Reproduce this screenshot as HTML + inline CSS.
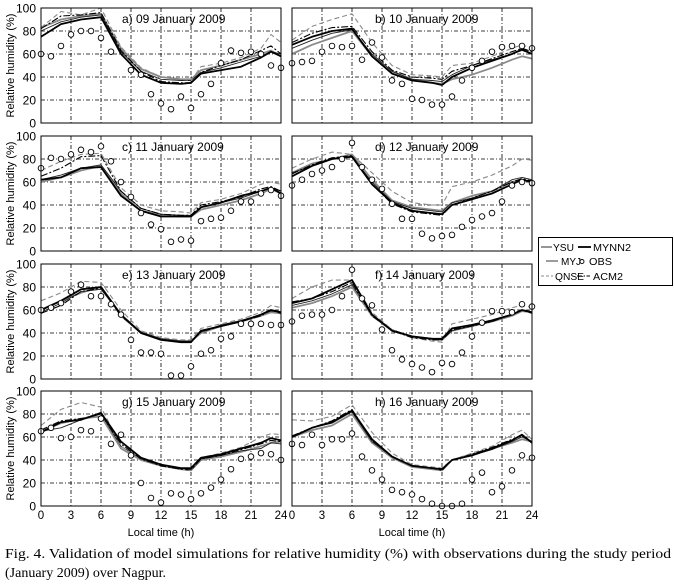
<!DOCTYPE html>
<html><head><meta charset="utf-8">
<style>
html,body{margin:0;padding:0;background:#fff;}
svg{display:block;font-family:"Liberation Sans",sans-serif;}
</style></head>
<body>
<svg id="fig" width="674" height="585" viewBox="0 0 674 585" xmlns="http://www.w3.org/2000/svg"></svg>
<script>
const hours = [0,2,4,6,8,10,12,14,15,16,18,20,22,23,24];
const obsHours = [0,1,2,3,4,5,6,7,8,9,10,11,12,13,14,15,16,17,18,19,20,21,22,23,24];
const xTicks = [0,3,6,9,12,15,18,21,24];
const yTicks = [0,20,40,60,80,100];
const panelTitles = ["a) 09 January 2009","b) 10 January 2009","c) 11 January 2009","d) 12 January 2009","e) 13 January 2009","f) 14 January 2009","g) 15 January 2009","h) 16 January 2009"];
const seriesNames = ["YSU","MYJ","QNSE","MYNN2","ACM2"];

const ysuA=[83,90,93,95,65,47,40,38,38,46,50,55,60,63,58];
const myjA=[80,88,92,94,62,45,38,37,37,44,48,53,58,62,60];
const qnseA=[83,97,94,100,66,48,40,38,37,49,52,57,65,77,70];
const mynnA=[75,86,90,92,60,42,35,34,35,43,46,49,57,62,58];
const acmA=[82,93,94,96,63,45,36,35,35,44,50,55,63,67,60];
const obsA=[60,58,67,77,80,80,74,62,null,46,42,25,17,12,23,13,25,34,52,63,61,62,60,50,48];

const ysuB=[60,68,74,80,58,45,38,35,34,38,42,48,55,58,56];
const myjB=[65,72,78,81,60,45,38,37,36,42,50,55,60,63,60];
const qnseB=[72,84,90,95,70,50,42,41,40,50,52,58,65,68,65];
const mynnB=[68,75,80,82,58,43,37,35,33,40,48,54,60,64,60];
const acmB=[70,78,83,84,62,46,40,39,38,45,50,56,62,65,62];
const obsB=[52,53,54,62,67,66,67,55,70,57,37,34,21,20,16,16,23,37,48,54,62,66,67,67,65];

const ysuC=[60,64,70,74,50,35,31,30,30,36,40,44,50,54,50];
const myjC=[62,66,72,75,52,37,32,31,31,38,42,46,52,55,52];
const qnseC=[70,78,84,85,55,40,35,34,33,42,45,50,58,60,58];
const mynnC=[62,64,72,73,48,35,30,30,30,38,42,48,52,55,50];
const acmC=[65,72,82,83,52,37,32,31,31,40,43,47,54,56,52];
const obsC=[72,81,80,84,88,86,91,78,60,47,33,23,19,8,10,9,26,28,29,35,43,43,50,53,48];

const ysuD=[68,76,80,84,62,44,38,36,35,42,48,52,60,62,60];
const myjD=[68,74,80,82,60,43,37,35,34,42,46,52,62,64,62];
const qnseD=[72,80,86,84,68,52,42,40,40,56,60,66,74,80,79];
const mynnD=[65,74,80,82,58,42,35,33,32,40,45,50,58,62,60];
const acmD=[67,75,81,83,58,41,34,32,31,40,46,52,60,63,61];
const obsD=[57,62,67,70,73,80,94,73,62,54,41,28,28,15,11,13,14,21,27,30,33,43,57,60,59];

const ysuE=[60,68,75,80,55,40,35,33,33,40,46,50,55,58,57];
const myjE=[58,66,76,78,56,41,35,33,33,41,47,51,56,59,58];
const qnseE=[68,75,85,84,60,42,36,34,34,44,48,52,58,64,62];
const mynnE=[60,68,78,80,56,40,34,32,32,42,46,50,56,60,58];
const acmE=[57,64,76,79,55,40,34,32,32,41,46,50,55,60,57];
const obsE=[60,62,66,76,82,72,72,65,56,34,23,23,22,3,3,11,22,25,35,37,48,48,48,47,47];

const ysuF=[62,66,72,80,55,42,37,35,34,42,46,50,55,59,58];
const myjF=[64,68,74,82,56,43,37,35,34,42,46,50,56,60,58];
const qnseF=[70,80,86,86,58,43,36,33,32,48,52,56,62,64,62];
const mynnF=[66,70,78,86,56,42,37,35,35,44,47,51,56,60,58];
const acmF=[67,70,76,84,55,42,36,34,34,43,46,50,56,60,57];
const obsF=[50,55,56,56,60,72,95,70,64,43,25,17,13,10,6,14,13,23,37,49,59,59,58,65,63];

const ysuG=[65,72,76,78,50,40,35,32,31,40,43,47,52,55,56];
const myjG=[65,68,75,80,52,41,35,32,31,41,44,48,50,55,54];
const qnseG=[70,84,90,86,52,40,35,32,31,42,46,51,60,63,62];
const mynnG=[64,73,75,81,56,42,36,33,33,42,45,50,55,59,57];
const acmG=[66,74,76,80,54,41,35,32,32,41,44,49,54,57,56];
const obsG=[65,68,59,60,66,65,76,54,62,44,20,7,3,11,10,6,11,16,23,32,41,43,46,45,40];

const ysuH=[60,66,70,80,55,42,34,32,31,40,45,50,55,58,56];
const myjH=[60,68,72,82,56,43,35,33,32,40,44,49,56,60,56];
const qnseH=[75,74,78,88,64,46,36,34,33,40,46,52,62,66,58];
const mynnH=[60,68,73,83,58,43,35,33,32,40,44,50,57,62,55];
const acmH=[61,68,74,84,57,43,35,33,31,40,45,51,58,61,56];
const obsH=[54,53,62,53,58,58,63,43,31,23,14,12,10,6,2,0,0,2,23,29,12,17,31,44,42];

const panelSeries=[[ysuA,myjA,qnseA,mynnA,acmA],[ysuB,myjB,qnseB,mynnB,acmB],[ysuC,myjC,qnseC,mynnC,acmC],[ysuD,myjD,qnseD,mynnD,acmD],[ysuE,myjE,qnseE,mynnE,acmE],[ysuF,myjF,qnseF,mynnF,acmF],[ysuG,myjG,qnseG,mynnG,acmG],[ysuH,myjH,qnseH,mynnH,acmH]];
const panelObs=[obsA,obsB,obsC,obsD,obsE,obsF,obsG,obsH];

const NS="http://www.w3.org/2000/svg";
const svg=document.getElementById('fig');
function mk(tag,attrs,parent){const e=document.createElementNS(NS,tag);for(const k in attrs)e.setAttribute(k,attrs[k]);(parent||svg).appendChild(e);return e;}
const styles=[
 {stroke:"#8a8a8a",w:1.8,dash:null},
 {stroke:"#222",w:0.9,dash:null},
 {stroke:"#8a8a8a",w:1.1,dash:"5,3"},
 {stroke:"#000",w:1.8,dash:null},
 {stroke:"#000",w:1.1,dash:"7,2,2,2"}
];
const colX=[41,292], PW=240, rowY=[8,136,264,391], PH=115;
for(let p=0;p<8;p++){
  const col=p%2,row=Math.floor(p/2);
  const x0=colX[col], y0=rowY[row];
  const sx=h=>x0+h/24*PW, sy=v=>y0+PH-v/100*PH;
  const g=mk('g',{});
  
  
  xTicks.slice(1,-1).forEach(t=>{const l=mk('line',{x1:sx(t),x2:sx(t),y1:y0,y2:y0+PH,stroke:"#000","stroke-width":0.8,"stroke-dasharray":"4,2,1,2"},g);});
  yTicks.slice(1,-1).forEach(t=>{const l=mk('line',{x1:x0,x2:x0+PW,y1:sy(t),y2:sy(t),stroke:"#000","stroke-width":0.8,"stroke-dasharray":"4,2,1,2"},g);});
  panelSeries[p].forEach((arr,si)=>{
    const st=styles[si];
    const d=arr.map((v,i)=>(i?'L':'M')+sx(hours[i]).toFixed(1)+','+sy(v).toFixed(1)).join('');
    const a={d:d,fill:"none",stroke:st.stroke,"stroke-width":st.w,"stroke-linejoin":"round"};
    if(st.dash)a["stroke-dasharray"]=st.dash;
    const pth=mk('path',a,g);
    
    
  });
  panelObs[p].forEach((v,i)=>{
    if(v===null)return;
    const c=mk('circle',{cx:sx(obsHours[i]),cy:sy(v),r:2.8,fill:"#fff",stroke:"#000","stroke-width":0.9},g);
    
    
  });
  const fr=mk('rect',{x:x0,y:y0,width:PW,height:PH,fill:"none",stroke:"#000","stroke-width":1},g);
  
  
  const tt=mk('text',{x:col?x0+83:x0+81,y:y0+15,"font-size":12,fill:"#000"},g);
  tt.textContent=panelTitles[p];
  
  
  if(col===0){
    yTicks.forEach(t=>{const tx=mk('text',{x:x0-5,y:sy(t)+4.5,"font-size":12,"text-anchor":"end"},g);tx.textContent=t;});
    const yt=mk('text',{x:0,y:0,"font-size":11,"text-anchor":"middle",transform:`translate(14,${y0+PH/2}) rotate(-90)`},g);
    yt.textContent="Relative humidity (%)";
    
    
  }
  if(row===3){
    xTicks.forEach(t=>{const tx=mk('text',{x:sx(t),y:y0+PH+13,"font-size":11.5,"text-anchor":"middle"},g);tx.textContent=t;});
    const xt=mk('text',{x:x0+PW/2,y:y0+PH+30,"font-size":11,"text-anchor":"middle"},g);
    xt.textContent="Local time (h)";
    
    
  }
}
const lg=mk('g',{});


mk('rect',{x:538.5,y:237.5,width:134,height:48,fill:"#fff",stroke:"#000","stroke-width":1},lg);
const legItems=[
 {si:0,x1:541,x2:552,tx:553,y:251,tl:21},
 {si:3,x1:578,x2:591,tx:593,y:251,tl:38},
 {si:1,x1:546,x2:558,tx:561,y:265,tl:20},
 {si:-1,x1:582,x2:582,tx:589,y:265,tl:23},
 {si:2,x1:541,x2:553,tx:555,y:280,tl:29},
 {si:4,x1:577,x2:590,tx:593,y:280,tl:30}
];
legItems.forEach(it=>{
  const e=mk('g',{},lg);
  
  
  if(it.si>=0){const st=styles[it.si];const a={x1:it.x1,x2:it.x2,y1:it.y-4,y2:it.y-4,stroke:st.stroke,"stroke-width":st.w};if(st.dash)a["stroke-dasharray"]=it.si===2?"3,2":"5,1.5,1.5,1.5";mk('line',a,e);}
  else mk('circle',{cx:it.x1,cy:it.y-3.5,r:2,fill:"#fff",stroke:"#000","stroke-width":0.9},e);
  const t=mk('text',{x:it.tx,y:it.y,"font-size":10,textLength:it.tl,lengthAdjust:"spacingAndGlyphs"},e);
  t.textContent=it.si>=0?seriesNames[it.si]:"OBS";
});
const c1=mk('text',{x:5,y:558,"font-size":14,"font-family":"Liberation Serif, serif",textLength:666,lengthAdjust:"spacingAndGlyphs"});
c1.textContent="Fig. 4. Validation of model simulations for relative humidity (%) with observations during the study period";


const c2=mk('text',{x:5,y:577,"font-size":14,"font-family":"Liberation Serif, serif"});
c2.textContent="(January 2009) over Nagpur.";


</script>
</body></html>
